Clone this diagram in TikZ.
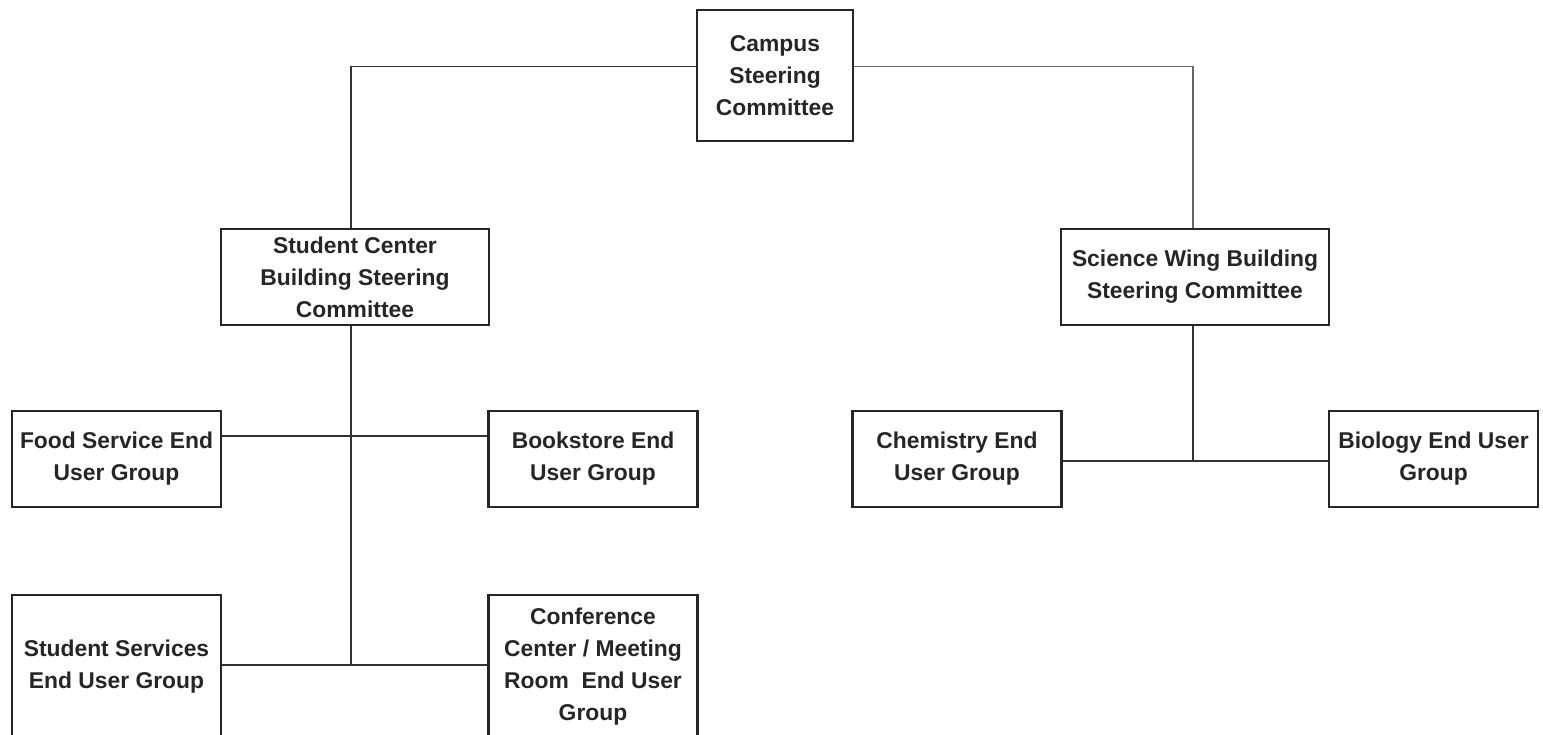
\documentclass[tikz,border=0pt]{standalone}
\usepackage{fontspec}
\setmainfont{Liberation Sans}
\usepackage{tikz}
\usetikzlibrary{positioning,calc}
\tikzset{
  unit/.style={draw=black!85, line width=1.4pt, fill=white, align=center,
               font=\bfseries\fontsize{13}{18.2}\selectfont, text=black!85,
               minimum width=4.18cm, minimum height=1.92cm, inner sep=1pt},
  board/.style={unit, minimum width=5.36cm},
  top/.style={unit, minimum width=3.12cm, minimum height=2.62cm},
  tall/.style={unit, minimum height=2.88cm},
  link/.style={draw=black!80, line width=1.1pt}
}
\begin{document}
\begin{tikzpicture}
  \useasboundingbox (0,0) rectangle (30.86,-14.7);
  % committees
  \node[top] (camp) at (15.50,-1.51) {Campus\\Steering\\Committee};
  \node[board] (sc) at (7.10,-5.54) {Student Center\\Building Steering\\Committee};
  \node[board] (sw) at (23.90,-5.54) {Science Wing Building\\Steering Committee};
  % end user groups
  \node[unit] (food) at (2.33,-9.18) {Food Service End\\User Group};
  \node[unit] (book) at (11.86,-9.18) {Bookstore End\\User Group};
  \node[unit] (chem) at (19.14,-9.18) {Chemistry End\\User Group};
  \node[unit] (bio) at (28.67,-9.18) {Biology End User\\Group};
  \node[tall] (ssv) at (2.33,-13.34) {Student Services\\End User Group};
  \node[tall] (conf) at (11.86,-13.34) {Conference\\Center / Meeting\\Room\ \ End User\\Group};
  % connectors
  \draw[link] ([yshift=0.18cm]camp.west) -| ([xshift=-0.08cm]sc.north);
  \draw[link, draw=black!60] ([yshift=0.18cm]camp.east) -| ([xshift=-0.04cm]sw.north);
  \coordinate (sctrunk) at ([xshift=-0.08cm]sc.south |- 0,-13.30);
  \draw[link] ([xshift=-0.08cm]sc.south) -- (sctrunk);
  \draw[link] ([yshift=0.46cm]food.east) -- ([yshift=0.46cm]book.west);
  \draw[link] (ssv.east |- sctrunk) -- (conf.west |- sctrunk);
  \coordinate (swtrunk) at ([xshift=-0.04cm,yshift=-0.04cm]sw.south |- chem.east);
  \draw[link] ([xshift=-0.04cm]sw.south) -- (swtrunk);
  \draw[link] (chem.east |- swtrunk) -- (bio.west |- swtrunk);
\end{tikzpicture}
\end{document}
